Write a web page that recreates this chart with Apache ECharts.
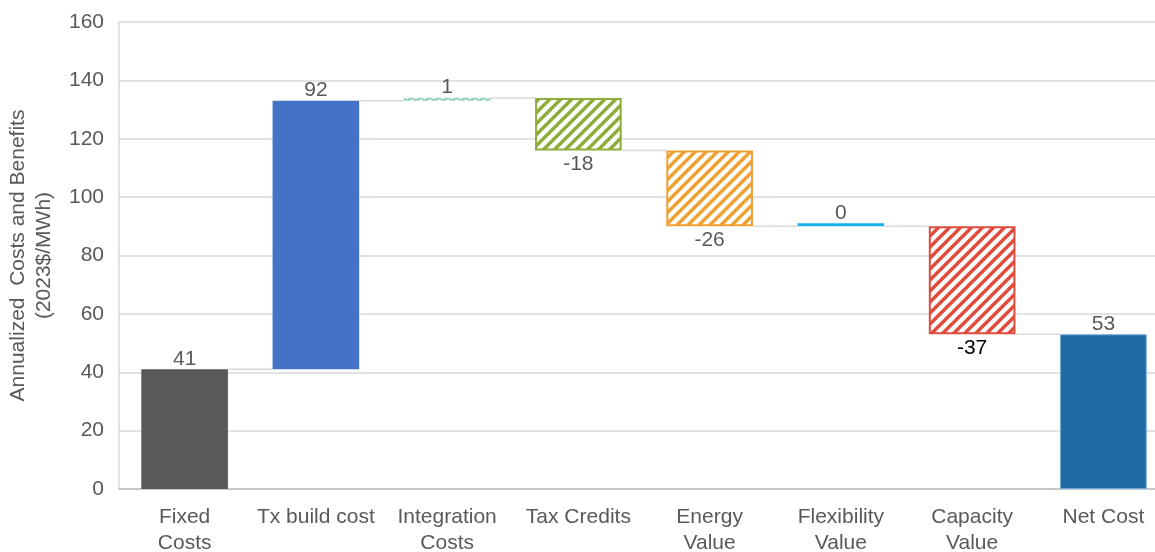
<!DOCTYPE html>
<html><head><meta charset="utf-8">
<script src="https://cdn.jsdelivr.net/npm/echarts@6/dist/echarts.min.js"></script>
<style>html,body{margin:0;padding:0;background:#fff}#c{width:1155px;height:552px}</style>
</head><body><div id="c"></div>
<script>
var categories = ['Fixed\nCosts', 'Tx build cost', 'Integration\nCosts', 'Tax Credits', 'Energy\nValue', 'Flexibility\nValue', 'Capacity\nValue', 'Net Cost'];
var values = [41, 92, 1, -18, -26, 0, -37, 53];
var isTotal = [false, false, false, false, false, false, false, true];
var yTicks = [0, 20, 40, 60, 80, 100, 120, 140, 160];

function hatch(color) {
  var s = 11;
  var c = document.createElement('canvas');
  c.width = s; c.height = s;
  var g = c.getContext('2d');
  g.fillStyle = '#fff'; g.fillRect(0, 0, s, s);
  g.strokeStyle = color; g.lineWidth = 3.4;
  g.beginPath();
  g.moveTo(-2, s + 2); g.lineTo(s + 2, -2);
  g.moveTo(-s / 2 - 2, s / 2 + 2); g.lineTo(s / 2 + 2, -s / 2 - 2);
  g.moveTo(s / 2 - 2, 3 * s / 2 + 2); g.lineTo(3 * s / 2 + 2, s / 2 - 2);
  g.stroke();
  return { image: c, repeat: 'repeat' };
}

var styles = [
  { color: '#595959' },
  { color: '#4472c4' },
  { color: '#c3e8db', borderColor: '#8fd1bb', borderWidth: 1.5, borderType: [6, 3] },
  { color: hatch('#8fab3a'), borderColor: '#8fab3a', borderWidth: 2 },
  { color: hatch('#f0a030'), borderColor: '#f0a030', borderWidth: 2 },
  { color: '#1ab0ef' },
  { color: hatch('#e04b3c'), borderColor: '#e04b3c', borderWidth: 2 },
  { color: '#1f6aa5', borderColor: '#6fa8dc', borderWidth: 1 }
];
var labelColors = ['#595959', '#595959', '#595959', '#595959', '#595959', '#595959', '#000000', '#595959'];

var baseData = [], deltaData = [], connectors = [];
var run = 0;
for (var i = 0; i < values.length; i++) {
  var v = values[i];
  if (isTotal[i]) {
    baseData.push(0);
    deltaData.push({ value: v, itemStyle: styles[i],
      label: { position: 'top', color: labelColors[i], distance: 0 } });
  } else {
    var end = run + v;
    baseData.push(Math.min(run, end));
    deltaData.push({ value: Math.abs(v), itemStyle: styles[i],
      label: { position: v < 0 ? 'bottom' : 'top', color: labelColors[i], distance: v < 0 ? 3 : 0 } });
    run = end;
    if (i < values.length - 1) connectors.push([i, run]);
  }
}

var FONT = 'Liberation Sans, Arial, sans-serif';
var chart = echarts.init(document.getElementById('c'));
chart.setOption({
  animation: false,
  grid: { left: 119, top: 22, width: 1050, height: 467, containLabel: false, outerBoundsMode: 'none' },
  xAxis: {
    type: 'category', data: categories,
    axisLine: { lineStyle: { color: '#bfbfbf', width: 1.5 } },
    axisTick: { show: false },
    axisLabel: { color: '#595959', fontSize: 21, fontFamily: FONT, lineHeight: 26, margin: 15, interval: 0 }
  },
  yAxis: {
    type: 'value', min: yTicks[0], max: yTicks[yTicks.length - 1], interval: yTicks[1] - yTicks[0],
    name: 'Annualized  Costs and Benefits\n(2023$/MWh)',
    nameLocation: 'middle', nameGap: 62, nameRotate: 90,
    nameTextStyle: { color: '#595959', fontSize: 21, fontFamily: FONT, lineHeight: 26 },
    axisLine: { show: true, lineStyle: { color: '#d9d9d9', width: 1.5 } },
    axisTick: { show: false },
    axisLabel: { color: '#595959', fontSize: 21, fontFamily: FONT, margin: 15 },
    splitLine: { lineStyle: { color: '#d9d9d9', width: 1.5 } }
  },
  series: [
    {
      type: 'custom', z: 1, silent: true,
      data: connectors,
      renderItem: function (params, api) {
        var idx = api.value(0);
        var p1 = api.coord([idx, api.value(1)]);
        var p2 = api.coord([idx + 1, api.value(1)]);
        var bw = api.size([1, 0])[0] * 0.66;
        return { type: 'line', shape: { x1: p1[0] + bw / 2, y1: p1[1], x2: p2[0] - bw / 2, y2: p2[1] },
          style: { stroke: '#d9d9d9', lineWidth: 1.5 } };
      }
    },
    {
      type: 'bar', stack: 'w', barWidth: '66%', silent: true,
      itemStyle: { color: 'transparent' },
      data: baseData
    },
    {
      type: 'bar', stack: 'w', barWidth: '66%', barMinHeight: 3, z: 3,
      label: {
        show: true, fontSize: 21, fontFamily: FONT,
        formatter: function (p) { return String(values[p.dataIndex]); }
      },
      data: deltaData
    }
  ]
});
</script>
</body></html>
